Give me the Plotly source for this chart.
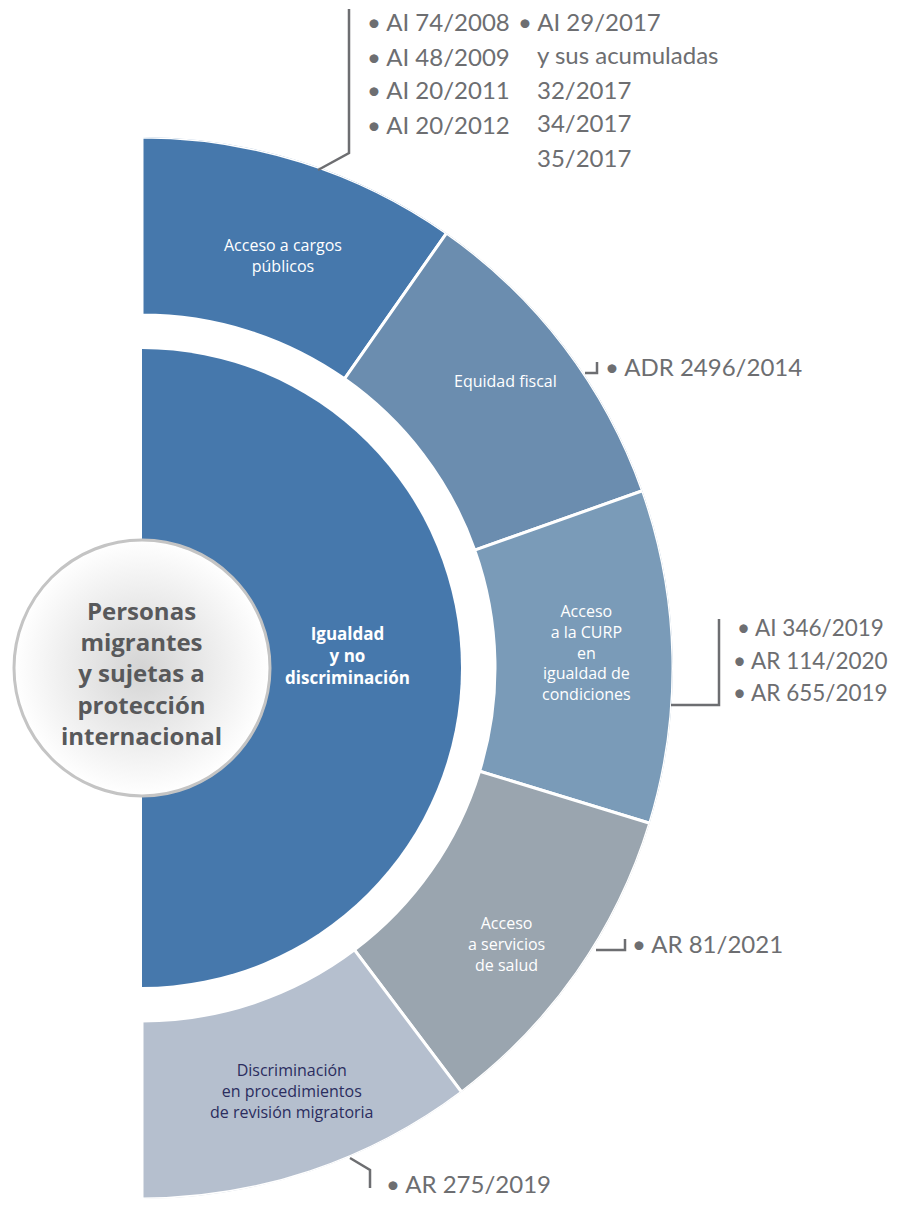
import plotly.graph_objects as go

# Personas migrantes: temas y asuntos resueltos (diagrama semicircular)

PAGE_W, PAGE_H = 902, 1207
OFF = 8  # the page body keeps its default 8px margin
W, H = PAGE_W - 2 * OFF, PAGE_H - 2 * OFF

core_label = "Igualdad<br>y no<br>discriminación"
center_label = "Personas<br>migrantes<br>y sujetas a<br>protección<br>internacional"

topics = [
    "Acceso a cargos<br>públicos",
    "Equidad fiscal",
    "Acceso<br>a la CURP<br>en<br>igualdad de<br>condiciones",
    "Acceso<br>a servicios<br>de salud",
    "Discriminación<br>en procedimientos<br>de revisión migratoria",
]
# angular borders of the five topics, degrees (0 = right, 90 = up)
edges = [90, 55, 19.5, -17, -53, -90]

cases_1a = ["• AI 74/2008", "• AI 48/2009", "• AI 20/2011", "• AI 20/2012"]
cases_1b = ["• AI 29/2017", "y sus acumuladas", "32/2017", "34/2017", "35/2017"]
cases_2 = ["• ADR 2496/2014"]
cases_3 = ["• AI 346/2019", "• AR 114/2020", "• AR 655/2019"]
cases_4 = ["• AR 81/2021"]
cases_5 = ["• AR 275/2019"]

# geometry (page pixels)
CX, CY = 142, 668
R_CORE, R_IN, R_OUT = 319, 353, 531

core_color = "#4678AC"
topic_colors = ["#4678AC", "#6B8DAF", "#7A9BB8", "#9AA5AF", "#B5BFCE"]
topic_text = ["white", "white", "white", "white", "#2B2D5E"]
gray = "#6D6E71"
SANS = "Open Sans"
LABEL_FONT = "Lato"


def px(x):
    return (x - OFF) / W


def py(y):
    return 1 - (y - OFF) / H


theta = [(a + b) / 2 for a, b in zip(edges[:-1], edges[1:])]
widths = [a - b for a, b in zip(edges[:-1], edges[1:])]

fig = go.Figure()

fig.add_trace(go.Barpolar(
    r=[R_CORE], theta=[0], width=[180], base=0,
    marker=dict(color=core_color, line=dict(width=0)),
    hoverinfo="skip"))

fig.add_trace(go.Barpolar(
    r=[R_OUT - R_IN] * 5, theta=theta, width=widths, base=R_IN,
    marker=dict(color=topic_colors, line=dict(color="white", width=3)),
    hoverinfo="skip"))

# the grey "button" in the middle
fig.add_trace(go.Scatterpolar(
    r=[0], theta=[0], mode="markers", cliponaxis=False,
    marker=dict(size=256, color="#FFFFFF",
                gradient=dict(type="radial", color="#D4D4D4"),
                line=dict(color="#C4C4C4", width=3)),
    hoverinfo="skip"))

annotations = []


def note(text, x, y, size, color, family=SANS, bold=False, anchor="center"):
    annotations.append(dict(
        x=px(x), y=py(y), xref="paper", yref="paper",
        text="<b>%s</b>" % text if bold else text, showarrow=False,
        xanchor=anchor, yanchor="middle", align="center",
        font=dict(family=family, size=size, color=color)))


# labels inside the ring
seg_pos = [(283, 256), (505, 381), (586, 652), (507, 944), (292, 1091)]
for t, (x, y), c in zip(topics, seg_pos, topic_text):
    note(t, x, y, 16, c)

note(core_label, 347, 655, 17, "white", bold=True)
note(center_label, 141, 673, 24, "#58595B", bold=True)


def case_list(lines, x, y0, dy, size=24):
    for i, t in enumerate(lines):
        note(t, x, y0 + i * dy, size, gray, family=LABEL_FONT, anchor="left")


case_list(cases_1a, 365, 22, 34)
case_list(cases_1b[:1], 516, 21, 34)
case_list(cases_1b[1:], 535, 55, 34)
case_list(cases_2, 603, 367, 34)
case_list(cases_3[:1], 735, 627, 33, 22.5)
case_list(cases_3[1:], 731, 660, 33, 22.5)
case_list(cases_4, 630, 943, 34)
case_list(cases_5, 384, 1183, 34)

# leader lines
leaders = [
    [(318, 170), (349, 153), (349, 9)],
    [(585, 373), (597, 373), (597, 362)],
    [(671, 705), (719, 705), (719, 619)],
    [(596, 950), (625, 950), (625, 939)],
    [(350, 1158), (370, 1170), (370, 1188)],
]
shapes = []
for pts in leaders:
    path = "M " + " L ".join("%.5f,%.5f" % (px(x), py(y)) for x, y in pts)
    shapes.append(dict(type="path", path=path, xref="paper", yref="paper",
                       line=dict(color=gray, width=2.5)))

fig.update_layout(
    width=W, height=H,
    margin=dict(l=0, r=0, t=0, b=0),
    paper_bgcolor="white", plot_bgcolor="white",
    showlegend=False,
    polar=dict(
        domain=dict(x=[px(CX), px(CX + R_OUT)], y=[py(CY + R_OUT), py(CY - R_OUT)]),
        sector=[-90, 90],
        bgcolor="rgba(0,0,0,0)",
        radialaxis=dict(range=[0, R_OUT], visible=False),
        angularaxis=dict(visible=False),
    ),
    annotations=annotations,
    shapes=shapes,
)

fig.write_html("out.html")
